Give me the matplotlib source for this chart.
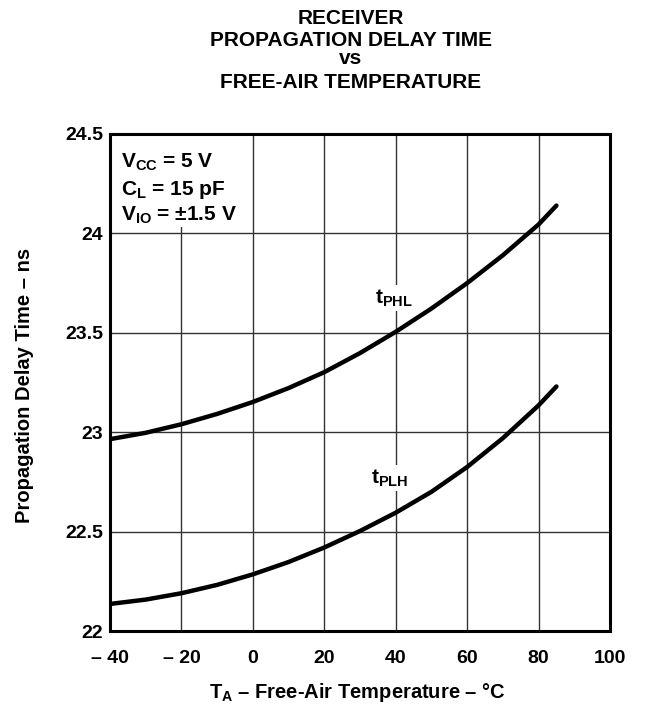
import matplotlib
matplotlib.use("Agg")
import matplotlib.pyplot as plt
from matplotlib.patches import Rectangle

plt.rcParams['font.family'] = ['Liberation Sans', 'DejaVu Sans']
plt.rcParams['font.weight'] = 'bold'
plt.rcParams['mathtext.fontset'] = 'custom'
plt.rcParams['mathtext.rm'] = 'Liberation Sans:bold'
plt.rcParams['mathtext.bf'] = 'Liberation Sans:bold'
plt.rcParams['mathtext.it'] = 'Liberation Sans:bold'
plt.rcParams['mathtext.default'] = 'rm'

# Data
temperature = [-40, -30, -20, -10, 0, 10, 20, 30, 40, 50, 60, 70, 80, 85]
t_phl = [22.965, 22.997, 23.04, 23.092, 23.152, 23.222, 23.302, 23.398, 23.505, 23.622, 23.75, 23.89, 24.045, 24.14]
t_plh = [22.136, 22.158, 22.19, 22.232, 22.285, 22.347, 22.42, 22.503, 22.595, 22.70, 22.825, 22.97, 23.135, 23.23]
x_ticks = [-40, -20, 0, 20, 40, 60, 80, 100]
x_tick_labels = ['– 40', '– 20', '0', '20', '40', '60', '80', '100']
y_ticks = [22, 22.5, 23, 23.5, 24, 24.5]
y_tick_labels = ['22', '22.5', '23', '23.5', '24', '24.5']

W, H = 647, 704
fig = plt.figure(figsize=(W / 100, H / 100), dpi=100)
ax = fig.add_axes([110 / W, 1 - 631 / H, 500 / W, 497 / H])

ax.set_xlim(-40, 100)
ax.set_ylim(22, 24.5)
ax.set_xticks(x_ticks)
ax.set_xticklabels(x_tick_labels)
ax.set_yticks(y_ticks)
ax.set_yticklabels(y_tick_labels)
ax.tick_params(axis='x', length=0, labelsize=14, pad=14)
ax.tick_params(axis='y', length=0, labelsize=14, pad=5)
for lbl in ax.get_xticklabels() + ax.get_yticklabels():
    lbl.set_fontweight('bold')
ax.grid(True, color='#333333', linewidth=1.0, zorder=1)
ax.set_axisbelow(True)
for s in ax.spines.values():
    s.set_linewidth(2.2)
    s.set_color('black')
    s.set_zorder(5)

ax.plot(temperature, t_phl, color='black', linewidth=3.2, zorder=4, solid_capstyle='round')
ax.plot(temperature, t_plh, color='black', linewidth=3.2, zorder=4, solid_capstyle='round')

# Conditions box (white background interrupts grid)
ax.add_patch(Rectangle((-39.5, 24.03), 38, 0.47, facecolor='white', edgecolor='none', zorder=2))
ax.text(-36.9, 24.33, r'$V_{CC}$ = 5 V', fontsize=15, fontweight='bold', zorder=3, va='baseline')
ax.text(-36.9, 24.195, r'$C_{L}$ = 15 pF', fontsize=15, fontweight='bold', zorder=3, va='baseline')
ax.text(-36.9, 24.065, r'$V_{IO}$ = ±1.5 V', fontsize=15, fontweight='bold', zorder=3, va='baseline')

# Curve labels
ax.text(39.5, 23.675, r'$t_{PHL}$', fontsize=15, ha='center', va='center', zorder=3,
        bbox=dict(facecolor='white', edgecolor='none', pad=2))
ax.text(38.3, 22.77, r'$t_{PLH}$', fontsize=15, ha='center', va='center', zorder=3,
        bbox=dict(facecolor='white', edgecolor='none', pad=2))

# Axis labels
fig.text(25 / W, 1 - 385 / H, 'Propagation Delay Time – ns', rotation=90, fontsize=14.5,
         fontweight='bold', ha='center', va='center')
fig.text(357 / W, 1 - 692 / H, r'$T_{A}$ – Free-Air Temperature – °C', fontsize=14.5,
         fontweight='bold', ha='center', va='center')

# Title
title_lines = ['RECEIVER', 'PROPAGATION DELAY TIME', 'vs', 'FREE-AIR TEMPERATURE']
title_y = [18.5, 40, 59, 82]
for t, yy in zip(title_lines, title_y):
    fig.text(351 / W, 1 - yy / H, t, fontsize=15, fontweight='bold', ha='center', va='center')

fig.savefig('out.png', dpi=100)
